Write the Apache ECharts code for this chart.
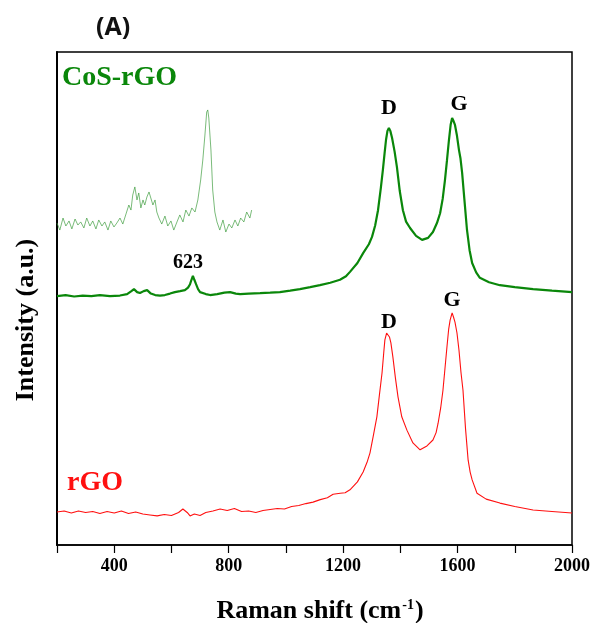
<!DOCTYPE html>
<html><head><meta charset="utf-8">
<script src="https://cdn.jsdelivr.net/npm/echarts@6/dist/echarts.min.js"></script>
<style>html,body{margin:0;padding:0;background:#fff}#c{width:594px;height:623px}</style>
</head><body><div id="c"></div>
<script>
// Raman shift (cm-1) and intensity (a.u.)
const cosX = [200,230,260,290,320,350,385,420,445,460,469,480,490,503,515,528,543,560,577,595,612,630,647,658,665,670,675,680,686,693,700,720,735,760,785,805,825,840,870,910,945,979,1015,1049,1085,1119,1155,1189,1210,1224,1250,1270,1290,1301,1312,1322,1332,1339,1345,1350,1355,1360,1365,1371,1380,1388,1398,1409,1420,1434,1455,1476,1497,1514,1528,1539,1548,1556,1563,1570,1576,1581,1586,1591,1598,1605,1610,1616,1624,1633,1642,1651,1665,1678,1710,1748,1800,1864,1930,2000];
const cosY = [50.5,50.7,50.4,50.6,50.5,50.7,50.5,50.6,50.9,51.5,51.9,51.3,51.1,51.5,51.7,51.0,50.7,50.6,50.7,51.0,51.3,51.5,51.7,52.2,52.9,53.8,54.6,53.8,52.9,51.9,51.3,50.9,50.7,50.9,51.2,51.3,51.0,50.9,51.0,51.1,51.2,51.3,51.6,51.9,52.3,52.7,53.2,53.8,54.5,55.4,57.2,59.2,61.0,62.5,64.8,67.9,72.5,76.1,79.5,82.2,84.0,84.6,84.0,82.6,79.8,76.7,71.8,67.9,65.6,64.3,62.7,61.9,62.3,63.5,65.3,67.3,70.2,74.0,78.0,82.2,85.3,86.6,86.0,85.2,83.0,80.1,78.5,75.5,70.0,63.9,59.8,57.2,55.3,54.2,53.3,52.7,52.3,51.9,51.6,51.3];
const rgoX = [200,225,250,275,300,325,350,375,400,425,450,475,500,525,550,575,600,625,640,655,665,680,700,720,745,770,795,820,845,870,895,920,945,970,995,1020,1045,1070,1095,1120,1145,1165,1190,1207,1224,1250,1270,1285,1294,1305,1318,1327,1336,1342,1346,1352,1357,1362,1367,1374,1383,1392,1405,1423,1444,1469,1493,1514,1525,1532,1541,1549,1556,1563,1569,1574,1581,1586,1591,1598,1605,1612,1619,1628,1637,1644,1651,1668,1700,1748,1800,1864,1930,2000];
const rgoY = [6.7,6.9,6.5,6.9,6.6,6.8,6.4,6.8,6.5,6.9,6.4,6.7,6.3,6.1,5.9,6.2,6.0,6.6,7.3,6.6,5.9,6.3,6.0,6.6,6.9,7.3,7.0,7.4,6.8,6.9,6.6,7.0,7.2,7.4,7.3,7.8,8.0,8.4,8.7,9.2,9.6,10.3,10.5,10.6,11.2,12.8,14.8,17.0,18.7,22.0,26.0,30.5,34.9,39.0,41.6,43.0,43.2,42.2,41.0,38.1,33.8,30.0,26.0,23.3,20.7,19.3,20.1,21.3,22.8,24.7,27.8,31.4,35.8,40.2,43.8,45.6,47.1,46.2,45.2,43.0,39.5,35.0,31.4,23.5,17.2,14.8,13.2,10.5,9.3,8.5,7.8,7.1,6.8,6.5];
// inset: magnified CoS-rGO low-frequency region
const insetX = [249,257,266,274,283,291,300,308,316,325,333,342,350,359,367,376,384,393,401,410,418,427,435,444,452,458,463,469,475,480,486,492,497,503,509,514,520,526,531,537,545,554,562,571,579,588,596,605,613,622,630,639,647,655,661,667,672,675,678,684,689,695,701,709,718,726,735,743,752,760,768,777,785,794,799];
const insetY = [12.1,7.1,15.7,10,13.6,7.9,15,10.7,12.9,8.6,15.7,10,13.6,7.9,14.3,10,12.9,7.1,13.6,9.3,12.1,15.7,11.4,18.6,25,21.4,32.1,37.9,28.6,33.6,22.9,28.6,25,30.7,34.3,35.7,25,28.6,20,15.7,11.4,17.1,10,13.6,7.1,12.9,17.9,12.9,21.4,17.1,22.9,20,28.6,42.9,57.1,75,91.4,92.9,87.1,64.3,35.7,20,12.9,7.1,14.3,5.7,11.4,8.6,14.3,10,15.7,12.9,20,15.7,21.4];
const xTicks = [400,800,1200,1600,2000];

const zip = (a,b)=>a.map((v,i)=>[v,b[i]]);
const serif = '"Liberation Serif", "Times New Roman", serif';
const chart = echarts.init(document.getElementById('c'), null, {renderer:'canvas'});
chart.setOption({
  animation:false,
  grid:[
    {left:57, top:52, right:22, bottom:78, show:true, borderColor:'#000', borderWidth:1.5, backgroundColor:'transparent'},
    {left:57, top:100, width:195, height:140, show:false}
  ],
  xAxis:[
    {type:'value', gridIndex:0, position:'bottom', min:200, max:2000, interval:200,
     axisLine:{show:true, lineStyle:{color:'#000', width:1.5}},
     axisTick:{show:true, inside:false, length:8, lineStyle:{color:'#000', width:1.2}},
     axisLabel:{show:true, margin:12, color:'#000', fontFamily:serif, fontWeight:'bold', fontSize:18,
       formatter:v=> xTicks.indexOf(v)>=0 ? String(v) : ''},
     splitLine:{show:false}},
    {type:'value', gridIndex:1, min:249, max:800, show:false, splitLine:{show:false}}
  ],
  yAxis:[
    {type:'value', gridIndex:0, min:0, max:100,
     axisLine:{show:true, lineStyle:{color:'#000', width:2}},
     axisTick:{show:false}, axisLabel:{show:false}, splitLine:{show:false}},
    {type:'value', gridIndex:1, min:0, max:100, show:false, splitLine:{show:false}}
  ],
  series:[
    {type:'line', xAxisIndex:0, yAxisIndex:0, data:zip(rgoX,rgoY), showSymbol:false, symbol:'none',
     lineStyle:{color:'#ff1010', width:1.1}},
    {type:'line', xAxisIndex:0, yAxisIndex:0, data:zip(cosX,cosY), showSymbol:false, symbol:'none',
     lineStyle:{color:'#0a870a', width:2.2}},
    {type:'line', xAxisIndex:1, yAxisIndex:1, data:zip(insetX,insetY), showSymbol:false, symbol:'none',
     lineStyle:{color:'#3a9a3a', width:0.8, opacity:0.85}}
  ],
  graphic:[
    {type:'text', left:96, top:15, style:{text:'(A)', font:'bold 25px "Open Sans", "Liberation Sans", sans-serif', fill:'#111'}},
    {type:'text', left:62, top:64, style:{text:'CoS-rGO', font:'bold 28px '+serif, fill:'#0a870a'}},
    {type:'text', left:67, top:469, style:{text:'rGO', font:'bold 28px '+serif, fill:'#ff1010'}},
    {type:'text', x:389, y:108, style:{text:'D', font:'bold 22px '+serif, fill:'#000', align:'center', verticalAlign:'middle'}},
    {type:'text', x:459, y:104, style:{text:'G', font:'bold 22px '+serif, fill:'#000', align:'center', verticalAlign:'middle'}},
    {type:'text', x:389, y:322, style:{text:'D', font:'bold 22px '+serif, fill:'#000', align:'center', verticalAlign:'middle'}},
    {type:'text', x:452, y:300, style:{text:'G', font:'bold 22px '+serif, fill:'#000', align:'center', verticalAlign:'middle'}},
    {type:'text', x:188, y:263, style:{text:'623', font:'bold 20px '+serif, fill:'#000', align:'center', verticalAlign:'middle'}},
    {type:'text', x:320, y:611, style:{
      text:'{t|Raman shift (cm}{s|-1}{t|)}', align:'center', verticalAlign:'middle',
      rich:{t:{fontFamily:serif, fontWeight:'bold', fontSize:26, fill:'#000'},
            s:{fontFamily:serif, fontWeight:'bold', fontSize:14, fill:'#000', verticalAlign:'top', padding:[0,1,12,1]}}}},
    {type:'text', x:26, y:320, rotation:Math.PI/2, style:{text:'Intensity (a.u.)', font:'bold 26px '+serif, fill:'#000', align:'center', verticalAlign:'middle'}}
  ]
});
</script></body></html>
